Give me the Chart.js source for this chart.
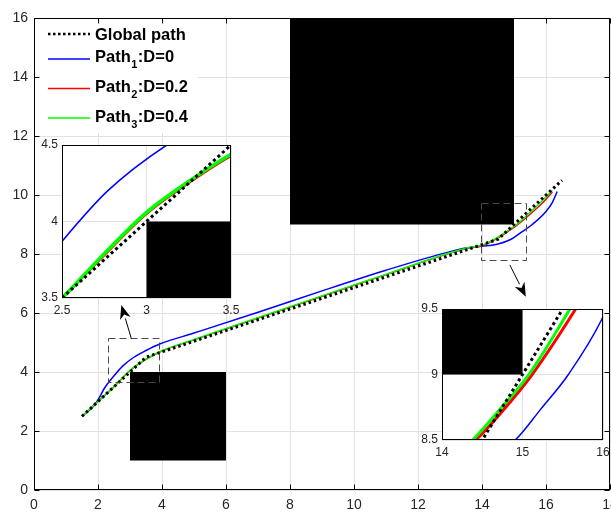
<!DOCTYPE html>
<html>
<head>
<meta charset="utf-8">
<script src="https://cdn.jsdelivr.net/npm/chart.js@4.4.1/dist/chart.umd.min.js"></script>
<style>
html, body { margin: 0; padding: 0; background: #fff; }
#wrap { position: relative; width: 611px; height: 514px; }
#wrap canvas { position: absolute; }
</style>
</head>
<body>
<div id="wrap">
  <canvas id="main" width="611" height="514" style="left:0;top:0"></canvas>
  <canvas id="zoomA" width="210" height="185" style="left:30px;top:135px"></canvas>
  <canvas id="zoomB" width="201" height="165" style="left:410px;top:300px"></canvas>
</div>
<script>
// ---- data ----
const globalX = [1.5, 3.5, 14.5, 16.5];
const globalY = [2.5, 4.5, 8.5, 10.5];

const path1X = [1.5, 1.8, 2.0, 2.2, 2.5, 2.77, 3.12, 3.5, 3.93, 5.0, 7.05, 9.0, 11.0, 13.0, 13.5, 14.0, 14.5, 14.91, 15.22, 15.57, 16.0, 16.2, 16.35];
const path1Y = [2.5, 2.77, 3.05, 3.45, 3.87, 4.2, 4.5, 4.73, 4.95, 5.32, 6.04, 6.75, 7.45, 8.08, 8.2, 8.26, 8.34, 8.5, 8.73, 9.0, 9.44, 9.75, 10.12];

const path2X = [1.5, 2.0, 2.5, 2.75, 3.0, 3.26, 3.5, 4.0, 5.0, 7.0, 9.0, 11.0, 13.0, 13.6, 14.0, 14.42, 14.75, 15.12, 15.66, 15.95, 16.2];
const path2Y = [2.5, 3.0, 3.5, 3.78, 4.05, 4.26, 4.43, 4.71, 5.09, 5.83, 6.57, 7.3, 8.03, 8.2, 8.28, 8.5, 8.72, 9.0, 9.5, 9.8, 10.1];

const path3X = [1.5, 2.0, 2.5, 2.75, 3.0, 3.26, 3.5, 4.0, 5.0, 7.0, 9.0, 11.0, 13.0, 13.6, 14.0, 14.38, 14.7, 15.08, 15.59, 15.9, 16.2];
const path3Y = [2.5, 3.0, 3.5, 3.79, 4.06, 4.27, 4.44, 4.72, 5.1, 5.84, 6.58, 7.31, 8.04, 8.22, 8.3, 8.5, 8.72, 9.0, 9.5, 9.82, 10.15];

// obstacles as [x0, x1, y0, y1]
const obstacles = [[3, 6, 1, 4], [8, 15, 9, 16]];
// dashed zoom boxes [x0, x1, y0, y1] and arrows [fromX, fromY, toX, toY]
const zoomBoxes = [[2.31, 3.9, 3.65, 5.14], [13.98, 15.39, 7.8, 9.72]];
const zoomArrows = [[3.04, 5.14, 2.73, 6.27], [14.87, 7.63, 15.37, 6.55]];

const mainXTicks = [0, 2, 4, 6, 8, 10, 12, 14, 16, 18];
const mainYTicks = [0, 2, 4, 6, 8, 10, 12, 14, 16];
const zoomAXTicks = [2.5, 3, 3.5];
const zoomAYTicks = [3.5, 4, 4.5];
const zoomBXTicks = [14, 15, 16];
const zoomBYTicks = [8.5, 9, 9.5];

const legendLabels = [
    { main: 'Global path', sub: '', rest: '' },
    { main: 'Path', sub: '1', rest: ':D=0' },
    { main: 'Path', sub: '2', rest: ':D=0.2' },
    { main: 'Path', sub: '3', rest: ':D=0.4' }
];

const FONT = "'Liberation Sans', Arial, sans-serif";
const colors = ['#000000', '#0000ff', '#ff0000', '#00ff00'];

function pts(xs, ys) {
    return xs.map((x, i) => ({ x: x, y: ys[i] }));
}

function makeDatasets(widths, dash) {
    const base = { showLine: true, pointRadius: 0, fill: false, clip: 0 };
    return [
        Object.assign({}, base, { label: 'Global path', data: pts(globalX, globalY), borderColor: colors[0], borderWidth: widths[0], borderDash: dash, tension: 0, order: 0 }),
        Object.assign({}, base, { label: 'Path1:D=0', data: pts(path1X, path1Y), borderColor: colors[1], borderWidth: widths[1], cubicInterpolationMode: 'monotone', order: 3 }),
        Object.assign({}, base, { label: 'Path2:D=0.2', data: pts(path2X, path2Y), borderColor: colors[2], borderWidth: widths[2], cubicInterpolationMode: 'monotone', order: 2 }),
        Object.assign({}, base, { label: 'Path3:D=0.4', data: pts(path3X, path3Y), borderColor: colors[3], borderWidth: widths[3], cubicInterpolationMode: 'monotone', order: 1 })
    ];
}

function noPad(s) {
    s.paddingLeft = 0; s.paddingRight = 0; s.paddingTop = 0; s.paddingBottom = 0;
}

function axis(min, max, tickList, size, fontSize, pad, isX) {
    return {
        type: 'linear',
        min: min,
        max: max,
        afterBuildTicks: s => { s.ticks = tickList.map(v => ({ value: v })); },
        afterFit: s => {
            if (isX) s.height = size; else s.width = size;
            noPad(s);
        },
        grid: { color: '#e2e2e2', drawTicks: false, lineWidth: 1 },
        border: { display: false },
        ticks: {
            padding: pad,
            color: '#262626',
            autoSkip: false,
            maxRotation: 0,
            font: { family: FONT, size: fontSize },
            callback: v => String(v)
        }
    };
}

// white inside the axes box (insets sit on top of the main chart)
const whiteArea = {
    id: 'whiteArea',
    beforeDraw(chart) {
        const { ctx, chartArea: a } = chart;
        ctx.save();
        ctx.fillStyle = '#fff';
        ctx.fillRect(a.left, a.top, a.right - a.left, a.bottom - a.top);
        ctx.restore();
    }
};

const obstaclePlugin = {
    id: 'obstacles',
    beforeDatasetsDraw(chart) {
        const { ctx, chartArea: a, scales: { x, y } } = chart;
        ctx.save();
        ctx.beginPath();
        ctx.rect(a.left, a.top, a.right - a.left, a.bottom - a.top);
        ctx.clip();
        ctx.fillStyle = '#000';
        obstacles.forEach(o => {
            const x0 = x.getPixelForValue(o[0]);
            const x1 = x.getPixelForValue(o[1]);
            const y0 = y.getPixelForValue(o[3]);
            const y1 = y.getPixelForValue(o[2]);
            ctx.fillRect(x0, y0, x1 - x0, y1 - y0);
        });
        ctx.restore();
    }
};

function drawFrame(chart, tickLen) {
    const { ctx, chartArea: a, scales: { x, y } } = chart;
    ctx.save();
    ctx.strokeStyle = '#000';
    ctx.lineWidth = 1;
    const l = Math.round(a.left) + 0.5, r = Math.round(a.right) - 0.5;
    const t = Math.round(a.top) + 0.5, b = Math.round(a.bottom) - 0.5;
    ctx.strokeRect(l, t, r - l, b - t);
    if (tickLen > 0) {
        ctx.beginPath();
        x.ticks.forEach(tk => {
            const px = Math.round(x.getPixelForValue(tk.value)) + 0.5;
            ctx.moveTo(px, b); ctx.lineTo(px, b - tickLen);
            ctx.moveTo(px, t); ctx.lineTo(px, t + tickLen);
        });
        y.ticks.forEach(tk => {
            const py = Math.round(y.getPixelForValue(tk.value)) + 0.5;
            ctx.moveTo(l, py); ctx.lineTo(l + tickLen, py);
            ctx.moveTo(r, py); ctx.lineTo(r - tickLen, py);
        });
        ctx.stroke();
    }
    ctx.restore();
}

function drawArrow(ctx, x0, y0, x1, y1) {
    const ang = Math.atan2(y1 - y0, x1 - x0);
    const len = 14, half = 5.5;
    const bx = x1 - len * Math.cos(ang), by = y1 - len * Math.sin(ang);
    ctx.beginPath();
    ctx.moveTo(x0, y0);
    ctx.lineTo(bx, by);
    ctx.stroke();
    ctx.beginPath();
    ctx.moveTo(x1, y1);
    ctx.lineTo(bx + half * Math.sin(ang), by - half * Math.cos(ang));
    ctx.lineTo(x1 - 0.7 * len * Math.cos(ang), y1 - 0.7 * len * Math.sin(ang));
    ctx.lineTo(bx - half * Math.sin(ang), by + half * Math.cos(ang));
    ctx.closePath();
    ctx.fill();
}

const mainDecor = {
    id: 'mainDecor',
    afterDatasetsDraw(chart) {
        const { ctx, chartArea: a, scales: { x, y } } = chart;
        ctx.save();

        // dashed zoom boxes
        ctx.strokeStyle = '#4a4a4a';
        ctx.lineWidth = 1;
        ctx.setLineDash([7, 4]);
        zoomBoxes.forEach(bx => {
            const x0 = Math.round(x.getPixelForValue(bx[0])) + 0.5;
            const x1 = Math.round(x.getPixelForValue(bx[1])) + 0.5;
            const y0 = Math.round(y.getPixelForValue(bx[3])) + 0.5;
            const y1 = Math.round(y.getPixelForValue(bx[2])) + 0.5;
            ctx.strokeRect(x0, y0, x1 - x0, y1 - y0);
        });
        ctx.setLineDash([]);

        // arrows
        ctx.strokeStyle = '#000';
        ctx.fillStyle = '#000';
        zoomArrows.forEach(ar => {
            drawArrow(ctx, x.getPixelForValue(ar[0]), y.getPixelForValue(ar[1]),
                x.getPixelForValue(ar[2]), y.getPixelForValue(ar[3]));
        });

        // legend
        const lx = a.left + 1, ly = a.top + 1;
        ctx.fillStyle = '#fff';
        ctx.fillRect(lx, ly, 162, 114);
        const lineY = [34, 59, 88.5, 118];
        const baseY = [40, 62, 92, 122];
        legendLabels.forEach((lab, i) => {
            ctx.beginPath();
            ctx.strokeStyle = colors[i];
            if (i === 0) {
                ctx.lineWidth = 2.5;
                ctx.setLineDash([2.5, 2.5]);
            } else {
                ctx.lineWidth = 1.5;
                ctx.setLineDash([]);
            }
            ctx.moveTo(48, lineY[i]);
            ctx.lineTo(90, lineY[i]);
            ctx.stroke();
            ctx.setLineDash([]);

            ctx.fillStyle = '#000';
            ctx.textBaseline = 'alphabetic';
            ctx.textAlign = 'left';
            ctx.font = 'bold 16.5px ' + FONT;
            let tx = 95;
            ctx.fillText(lab.main, tx, baseY[i]);
            tx += ctx.measureText(lab.main).width;
            if (lab.sub) {
                ctx.font = 'bold 11px ' + FONT;
                ctx.fillText(lab.sub, tx + 0.5, baseY[i] + 6);
                tx += ctx.measureText(lab.sub).width + 1;
                ctx.font = 'bold 16.5px ' + FONT;
                ctx.fillText(lab.rest, tx, baseY[i]);
            }
        });
        ctx.restore();

        drawFrame(chart, 5);
    }
};

const insetFrame = {
    id: 'insetFrame',
    afterDatasetsDraw(chart) {
        drawFrame(chart, 0);
    }
};

new Chart(document.getElementById('main'), {
    type: 'scatter',
    data: { datasets: makeDatasets([3, 1.5, 1.5, 1.5], [2.5, 3]) },
    options: {
        responsive: false,
        animation: false,
        events: [],
        layout: { padding: { top: 18, right: 1, left: 0, bottom: 0 } },
        plugins: { legend: { display: false }, tooltip: { enabled: false } },
        scales: {
            x: axis(0, 18, mainXTicks, 24, 14, 7, true),
            y: axis(0, 16, mainYTicks, 34, 14, 6, false)
        }
    },
    plugins: [whiteArea, obstaclePlugin, mainDecor]
});

function makeInset(id, xMin, xMax, yMin, yMax, xt, yt, pad, yWidth, xHeight, widths) {
    new Chart(document.getElementById(id), {
        type: 'scatter',
        data: { datasets: makeDatasets(widths, [3, 3]) },
        options: {
            responsive: false,
            animation: false,
            events: [],
            layout: { padding: pad },
            plugins: { legend: { display: false }, tooltip: { enabled: false } },
            scales: {
                x: axis(xMin, xMax, xt, xHeight, 12, 5, true),
                y: axis(yMin, yMax, yt, yWidth, 12, 4, false)
            }
        },
        plugins: [whiteArea, obstaclePlugin, insetFrame]
    });
}

makeInset('zoomA', 2.5, 3.5, 3.5, 4.5, zoomAXTicks, zoomAYTicks,
    { top: 10, right: 9, left: 0, bottom: 0 }, 32, 22, [3, 1.5, 2.5, 3.5]);
makeInset('zoomB', 14, 16, 8.5, 9.5, zoomBXTicks, zoomBYTicks,
    { top: 9, right: 8, left: 0, bottom: 0 }, 32, 25, [3, 1.5, 3, 3]);
</script>
</body>
</html>
